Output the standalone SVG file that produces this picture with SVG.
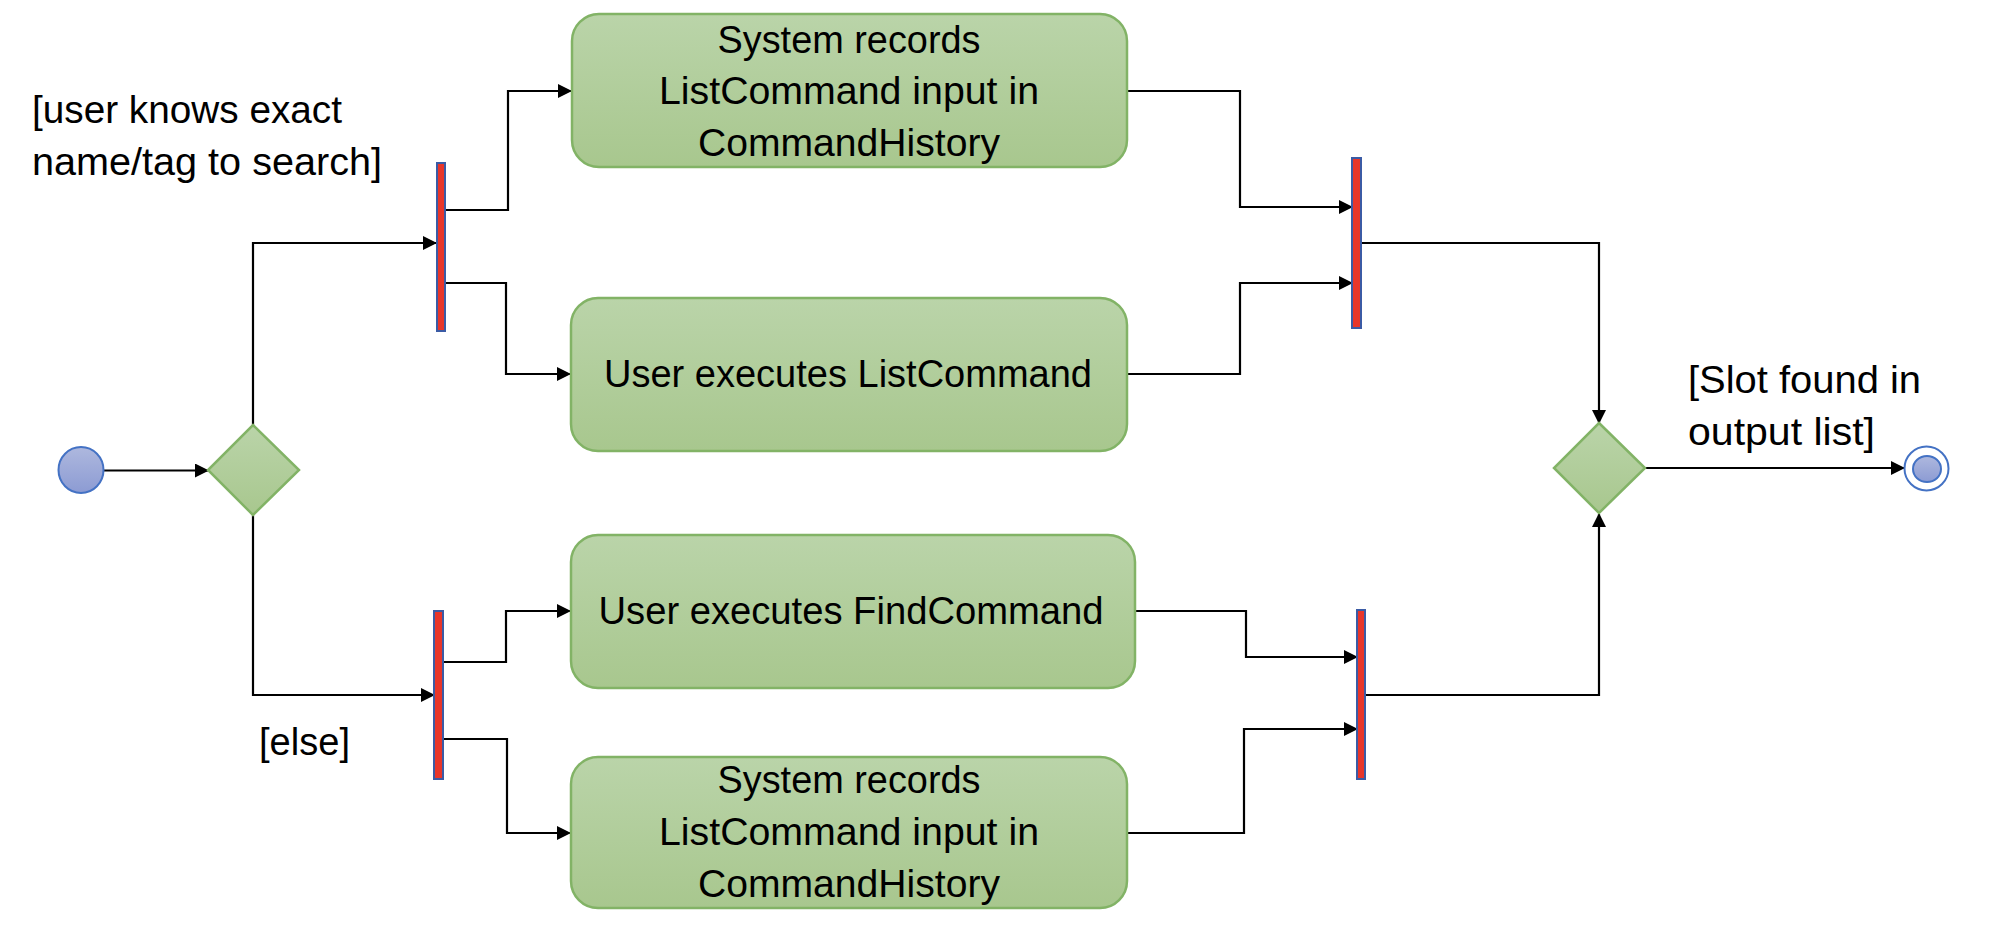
<svg xmlns="http://www.w3.org/2000/svg" width="2004" height="952" viewBox="0 0 2004 952">
<style>
.box{fill:url(#gGreen);stroke:#82b366;stroke-width:2.5}
.dia{fill:url(#gGreen);stroke:#82b366;stroke-width:2.5}
.bar{fill:#e8362a;stroke:#3b5ba5;stroke-width:2}
.t{font-family:"Liberation Sans",Arial,sans-serif;font-size:38px;fill:#000}
.conn path{fill:none;stroke:#000;stroke-width:2.2}
.arr{marker-end:url(#ah)}
</style>
<defs>
<linearGradient id="gGreen" x1="0" y1="0" x2="0" y2="1">
<stop offset="0" stop-color="#bad4a9"/>
<stop offset="1" stop-color="#a8c78e"/>
</linearGradient>
<linearGradient id="gBlue" x1="0" y1="0" x2="0" y2="1">
<stop offset="0" stop-color="#aeb8de"/>
<stop offset="1" stop-color="#8c9bd3"/>
</linearGradient>
<marker id="ah" viewBox="0 0 14 14" refX="13" refY="7" markerWidth="14" markerHeight="14" markerUnits="userSpaceOnUse" orient="auto">
<path d="M0,0 L14,7 L0,14 Z" fill="#000"/>
</marker>
</defs>
<rect width="2004" height="952" fill="#fff"/>

<g id="connectors" class="conn">
<path class="arr" d="M104,470.5 H208"/>
<path class="arr" d="M253,425 V243 H436"/>
<path class="arr" d="M253,515 V695 H434"/>
<path class="arr" d="M445,210 H508 V91 H571"/>
<path class="arr" d="M441,283 H506 V374 H570"/>
<path class="arr" d="M441,662 H506 V611 H570"/>
<path class="arr" d="M443,739 H507 V833 H570"/>
<path class="arr" d="M1127,91 H1240 V207 H1352"/>
<path class="arr" d="M1127,374 H1240 V283 H1352"/>
<path class="arr" d="M1361,243 H1599 V423"/>
<path class="arr" d="M1135,611 H1246 V657 H1357"/>
<path class="arr" d="M1127,833 H1244 V729 H1357"/>
<path class="arr" d="M1365,695 H1599 V514"/>
<path class="arr" d="M1645,468 H1904"/>
</g>

<g id="start">
<ellipse cx="81" cy="470" rx="22.5" ry="23" fill="url(#gBlue)" stroke="#4472c4" stroke-width="2"/>
</g>

<g id="decision1">
<polygon class="dia" points="253,425 299,470 253,515 208,470"/>
</g>

<g id="fork1">
<rect class="bar" x="437" y="163" width="8" height="168"/>
</g>
<g id="fork2">
<rect class="bar" x="434" y="611" width="9" height="168"/>
</g>

<g id="box1">
<rect class="box" x="572" y="14" width="555" height="153" rx="27"/>
<text class="t" x="849" y="53" text-anchor="middle" textLength="263" lengthAdjust="spacingAndGlyphs">System records</text>
<text class="t" x="849" y="104" text-anchor="middle" textLength="380" lengthAdjust="spacingAndGlyphs">ListCommand input in</text>
<text class="t" x="849" y="156" text-anchor="middle" textLength="302" lengthAdjust="spacingAndGlyphs">CommandHistory</text>
</g>

<g id="box2">
<rect class="box" x="571" y="298" width="556" height="153" rx="27"/>
<text class="t" x="848" y="387" text-anchor="middle" textLength="488" lengthAdjust="spacingAndGlyphs">User executes ListCommand</text>
</g>

<g id="box3">
<rect class="box" x="571" y="535" width="564" height="153" rx="27"/>
<text class="t" x="851" y="624" text-anchor="middle" textLength="505" lengthAdjust="spacingAndGlyphs">User executes FindCommand</text>
</g>

<g id="box4">
<rect class="box" x="571" y="757" width="556" height="151" rx="27"/>
<text class="t" x="849" y="793" text-anchor="middle" textLength="263" lengthAdjust="spacingAndGlyphs">System records</text>
<text class="t" x="849" y="845" text-anchor="middle" textLength="380" lengthAdjust="spacingAndGlyphs">ListCommand input in</text>
<text class="t" x="849" y="897" text-anchor="middle" textLength="302" lengthAdjust="spacingAndGlyphs">CommandHistory</text>
</g>

<g id="join1">
<rect class="bar" x="1352" y="158" width="9" height="170"/>
</g>
<g id="join2">
<rect class="bar" x="1357" y="610" width="8" height="169"/>
</g>

<g id="decision2">
<polygon class="dia" points="1599,423 1645,468 1599,513 1554,468"/>
</g>

<g id="end">
<ellipse cx="1926.5" cy="468.5" rx="22" ry="22" fill="#fff" stroke="#4472c4" stroke-width="2"/>
<ellipse cx="1927" cy="469" rx="14" ry="13" fill="url(#gBlue)" stroke="#4472c4" stroke-width="2"/>
</g>

<g id="labels">
<text class="t" x="32" y="123" textLength="310" lengthAdjust="spacingAndGlyphs">[user knows exact</text>
<text class="t" x="32" y="175" textLength="350" lengthAdjust="spacingAndGlyphs">name/tag to search]</text>
<text class="t" x="259" y="755" textLength="91" lengthAdjust="spacingAndGlyphs">[else]</text>
<text class="t" x="1688" y="393" textLength="233" lengthAdjust="spacingAndGlyphs">[Slot found in</text>
<text class="t" x="1688" y="445" textLength="187" lengthAdjust="spacingAndGlyphs">output list]</text>
</g>
</svg>
